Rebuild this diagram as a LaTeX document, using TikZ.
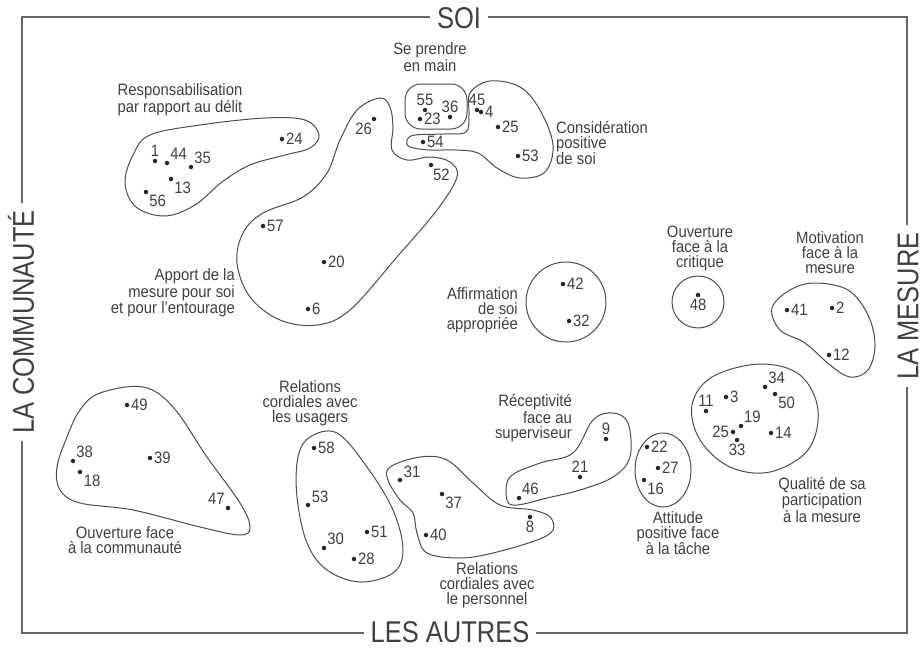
\documentclass[tikz,border=0pt]{standalone}
\usepackage{fontspec}
\setmainfont{Liberation Sans}[FakeStretch=0.9]
\newfontfamily\axisfamily{Liberation Sans}[FakeStretch=0.85]
\usepackage{xcolor}
\usepackage{tikz}
\usetikzlibrary{positioning}

\newcommand\lblfont{\fontsize{16.5}{15}\selectfont}
\newcommand\numfont{\fontsize{16.5}{15}\selectfont}
\newcommand\axisfont{\axisfamily\fontsize{30}{30}\selectfont}

\begin{document}
\begin{tikzpicture}[
        x=1pt, y=-1pt,
        item/.style={circle, fill=black!85, inner sep=0pt, minimum size=4.5pt},
        num/.style={font=\numfont, text=black!75, inner sep=1pt, label distance=0.5pt},
        concept/.style={font=\lblfont, text=black!75, inner sep=0pt},
        blob/.style={draw=black!70, line width=1pt},
        cadre/.style={draw=black!60, line width=1.3pt},
        axis/.style={font=\axisfont, text=black!75, fill=white, inner xsep=7pt, inner ysep=0pt},
    ]
    \useasboundingbox (0,0) rectangle (923,651);

    % === FRAME ===
    \draw[cadre] (22,17) rectangle (907,633);
    \node[axis] (soi) at (459,18) {SOI};
    \node[axis] (autres) at (450,632) {LES AUTRES};
    \node[axis, rotate=90] (comm) at (21,322) {LA COMMUNAUTÉ};
    \node[axis, rotate=90] (mesure) at (908,306) {LA MESURE};

    % === CLUSTERS ===
    % Responsabilisation
    \draw[blob] plot[smooth cycle, tension=0.6] coordinates {(150,135) (200,125) (265,118) (305,120) (319,135) (310,148) (285,155) (250,165) (222,182) (195,205) (165,216) (136,207) (125,183) (133,155)};
    % Apport de la mesure
    \draw[blob] plot[smooth cycle, tension=0.6] coordinates {(380,98) (357,110) (340,140) (327,173) (303,197) (263,213) (243,233) (237,263) (250,297) (280,320) (317,325) (350,310) (397,257) (437,210) (457,177) (450,162) (430,157) (407,160) (392,150) (393,127) (390,107)};
    % Se prendre en main
    \draw[blob, rounded corners=16] (405,84) rectangle (467,129);
    % Considération positive de soi
    \draw[blob] plot[smooth cycle, tension=0.6] coordinates {(470,93) (490,81) (520,87) (540,110) (553,145) (545,172) (520,178) (497,168) (478,153) (455,150) (430,150) (410,147) (407,140) (415,135) (445,134) (466,132) (469,115)};
    % Affirmation de soi / critique
    \draw[blob] (566,302) circle (40);
    \draw[blob] (698,302) circle (26);
    % Motivation
    \draw[blob] plot[smooth cycle, tension=0.6] coordinates {(772,308) (790,290) (815,283) (848,290) (868,315) (875,345) (868,370) (850,377) (830,365) (805,343) (780,330)};
    % Qualité de sa participation
    \draw[blob] plot[smooth cycle, tension=0.6] coordinates {(760,364) (800,375) (818,410) (808,450) (770,472) (730,467) (700,440) (692,405) (712,377)};
    % Ouverture à la communauté
    \draw[blob] plot[smooth cycle, tension=0.6] coordinates {(100,393) (143,387) (173,407) (207,457) (240,503) (250,527) (240,535) (200,527) (133,510) (80,503) (60,490) (57,467) (67,437) (80,410)};
    % Relations usagers
    \draw[blob] plot[smooth cycle, tension=0.6] coordinates {(310,437) (337,433) (367,467) (393,510) (403,550) (393,573) (360,582) (327,570) (307,543) (297,497) (298,457)};
    % Relations personnel
    \draw[blob] plot[smooth cycle, tension=0.6] coordinates {(390,467) (420,457) (447,460) (473,483) (500,505) (533,510) (550,517) (553,530) (537,540) (493,553) (460,558) (427,553) (417,533) (413,513) (400,500) (388,480)};
    % Réceptivité
    \draw[blob] plot[smooth cycle, tension=0.6] coordinates {(507,500) (510,477) (540,463) (573,453) (593,420) (613,413) (628,423) (630,457) (613,477) (580,490) (547,498) (517,505)};
    % Attitude
    \draw[blob] (663,470) ellipse (28 and 37);

    % === ITEMS ===
    \foreach \n/\p/\x/\y/\d in {
        r1/1/155/161/above, r44/44/167/163/above right, r35/35/191/167/above right,
        r13/13/171/179/below right, r56/56/146/192/below right, r24/24/282/139/right,
        a26/26/374/119/-110, a57/57/263/226/right, a20/20/324/262/right,
        a6/6/308/309/right, a52/52/431/165/-70,
        s55/55/425/110/above, s36/36/450/117/above, s23/23/420/119/right,
        c45/45/477/110/above, c4/4/481/112/right, c25/25/498/127/right,
        c53/53/518/156/right, c54/54/423/142/right,
        f42/42/563/284/right, f32/32/569/321/right, k48/48/698/295/below,
        m41/41/787/310/right, m2/2/832/308/right, m12/12/829/355/right,
        q11/11/706/411/above, q3/3/726/397/right, q34/34/765/387/40,
        q50/50/775/394/-40, q19/19/741/426/50, q25/25/733/432/left,
        q33/33/737/440/below, q14/14/771/433/right,
        o49/49/127/405/right, o38/38/73/461/45, o18/18/80/472/-30,
        o39/39/150/458/right, o47/47/228/508/135,
        u58/58/314/448/right, u53/53/308/505/20, u51/51/367/532/right,
        u30/30/324/548/45, u28/28/354/559/right,
        p31/31/400/480/20, p37/37/442/494/-40, p40/40/426/535/right, p8/8/530/517/below,
        v9/9/606/439/above, v21/21/580/477/above, v46/46/519/498/50,
        t22/22/647/447/right, t27/27/658/468/right, t16/16/644/480/-40}
        \node[item, label={[num]\d:\p}] (\n) at (\x,\y) {};

    % === LABELS ===
    \node[concept, align=center] (resp) at (180,100) {Responsabilisation\\par rapport au délit};
    \node[concept, align=center] (prendre) at (430,57) {Se prendre\\en main};
    \node[concept, align=left, anchor=west] (consid) at (556,143) {Considération\\positive\\de soi};
    \node[concept, align=right, anchor=east] (apport) at (235,293) {Apport de la\\mesure pour soi\\et pour l'entourage};
    \node[concept, align=right, anchor=east] (affirm) at (518,310) {Affirmation\\de soi\\appropriée};
    \node[concept, align=center] (critique) at (700,248) {Ouverture\\face à la\\critique};
    \node[concept, align=center] (motiv) at (830,253) {Motivation\\face à la\\mesure};
    \node[concept, align=right, anchor=east] (recept) at (572,418) {Réceptivité\\face au\\superviseur};
    \node[concept, align=center] (usagers) at (310,403) {Relations\\cordiales avec\\les usagers};
    \node[concept, align=center] (personnel) at (487,585) {Relations\\cordiales avec\\le personnel};
    \node[concept, align=center] (attitude) at (678,533) {Attitude\\positive face\\à la tâche};
    \node[concept, align=center] (qualite) at (822,500) {Qualité de sa\\participation\\à la mesure};
    \node[concept, align=center] (ouvcomm) at (125,540) {Ouverture face\\à la communauté};

\end{tikzpicture}
\end{document}
